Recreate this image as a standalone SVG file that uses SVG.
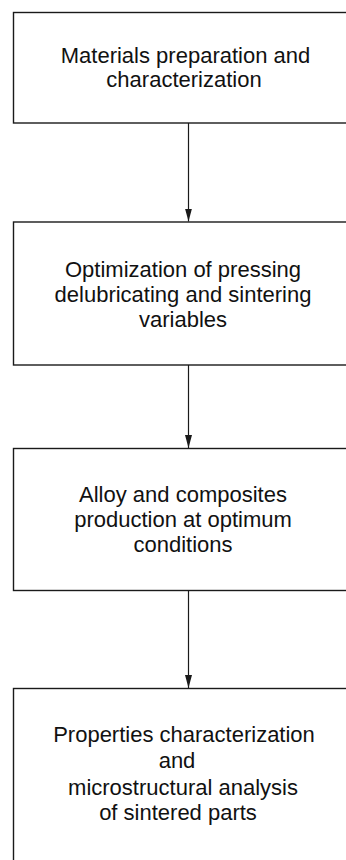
<svg xmlns="http://www.w3.org/2000/svg" width="346" height="860" viewBox="0 0 346 860">
  <style>
    .box { fill: #ffffff; stroke: #1a1a1a; stroke-width: 1.4; }
    .lbl { font-family: "Liberation Sans", Arial, Helvetica, sans-serif; font-size: 22px; fill: #111111; text-anchor: middle; }
    .conn { stroke: #1a1a1a; stroke-width: 1.2; fill: none; }
  </style>
  <defs>
    <marker id="arrowhead" markerWidth="13" markerHeight="8" refX="13" refY="4" orient="auto" markerUnits="userSpaceOnUse" viewBox="0 0 13 8">
      <path d="M0,0.5 L13,4 L0,7.5 Z" fill="#1a1a1a"/>
    </marker>
  </defs>
  <rect width="346" height="860" fill="#ffffff"/>

  <g id="connectors">
    <line class="conn" x1="188.5" y1="123" x2="188.5" y2="221.5" marker-end="url(#arrowhead)"/>
    <line class="conn" x1="188.5" y1="365" x2="188.5" y2="448" marker-end="url(#arrowhead)"/>
    <line class="conn" x1="188.5" y1="591" x2="188.5" y2="688" marker-end="url(#arrowhead)"/>
  </g>

  <g id="node-materials">
    <rect class="box" x="13.5" y="12.5" width="360" height="110.5"/>
    <text class="lbl" x="185.5" y="63">Materials preparation and</text>
    <text class="lbl" x="184" y="87">characterization</text>
  </g>

  <g id="node-optimization">
    <rect class="box" x="13.5" y="222" width="360" height="143"/>
    <text class="lbl" x="183" y="277">Optimization of pressing</text>
    <text class="lbl" x="183" y="302">delubricating and sintering</text>
    <text class="lbl" x="183" y="327">variables</text>
  </g>

  <g id="node-production">
    <rect class="box" x="13.5" y="448.5" width="360" height="142"/>
    <text class="lbl" x="183" y="502">Alloy and composites</text>
    <text class="lbl" x="183" y="527">production at optimum</text>
    <text class="lbl" x="183" y="552">conditions</text>
  </g>

  <g id="node-properties">
    <rect class="box" x="13.5" y="688.5" width="360" height="200"/>
    <text class="lbl" x="184" y="742">Properties characterization</text>
    <text class="lbl" x="177" y="768">and</text>
    <text class="lbl" x="183" y="795">microstructural analysis</text>
    <text class="lbl" x="178" y="820">of sintered parts</text>
  </g>
</svg>
